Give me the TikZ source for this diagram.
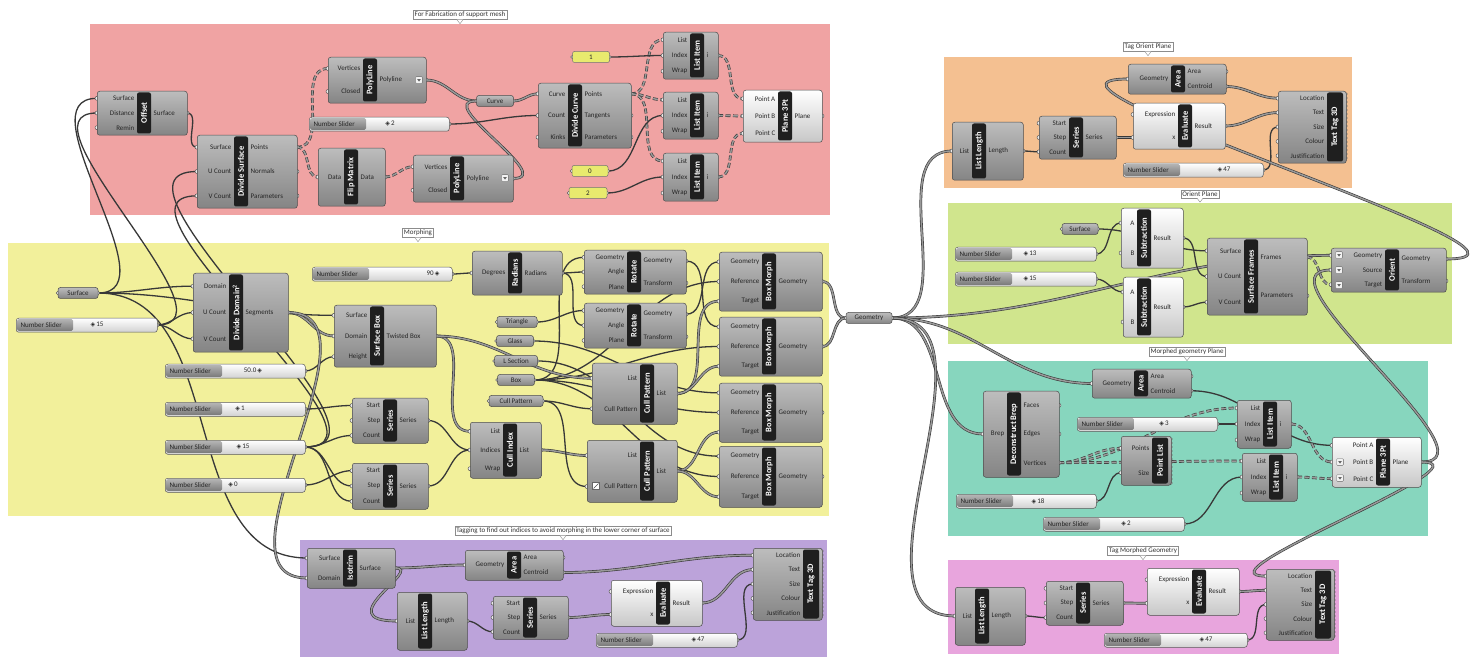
\documentclass[tikz,border=0pt]{standalone}
\usepackage{fontspec}
\setmainfont{Carlito}
\newfontfamily\dejavu{DejaVu Sans}
\pgfdeclarelayer{grp}
\pgfdeclarelayer{wir}
\pgfsetlayers{grp,wir,main}
\definecolor{gred}{RGB}{240,163,163}
\definecolor{gorange}{RGB}{244,192,145}
\definecolor{ggreen}{RGB}{208,229,141}
\definecolor{gteal}{RGB}{135,214,190}
\definecolor{gpink}{RGB}{232,165,221}
\definecolor{gyellow}{RGB}{242,240,155}
\definecolor{gpurple}{RGB}{188,163,218}
\definecolor{panelY}{RGB}{232,234,110}
\tikzset{
  lab/.style={font=\fontsize{7}{8}\selectfont, text=black!85, inner sep=0.5pt},
  ttl/.style={font=\bfseries\fontsize{8.5}{9}\selectfont, text=white, inner sep=0, rotate=90},
  ghbody/.style={draw=black!70, line width=0.5pt, rounded corners=2.5pt, top color=black!26, bottom color=black!48, inner sep=0},
  ghlight/.style={draw=black!70, line width=0.5pt, rounded corners=2.5pt, top color=white, bottom color=black!22, inner sep=0},
  ghcur/.style={ghbody},
  slbody/.style={draw=black!65, line width=0.5pt, rounded corners=2.5pt, top color=white, bottom color=black!18, inner sep=0},
  panelst/.style={draw=black!55, line width=0.5pt, rounded corners=2pt, fill=panelY, inner sep=0},
  port/.style={fill=black!8, draw=black!75, line width=0.4pt},
  barf/.style={fill=black!88, rounded corners=2pt},
  gtitle/.style={fill=white, draw=black!45, line width=0.4pt, font=\fontsize{7}{8}\selectfont, text=black!80, inner sep=1.5pt},
  gptr/.style={fill=white, draw=black!45, line width=0.4pt},
  w/.style={draw=black!78, line width=1.3pt},
  wl/.style={draw=black!78, line width=0.6pt, double=black!40, double distance=1.5pt},
  wt/.style={wl, dash pattern=on 5pt off 2.5pt},
}
\newcommand\dia{{\dejavu\fontsize{6}{6}\selectfont ◈}}
% component: name x y w h baroffset title inputs outputs
\newcommand\ghc[9]{%
  \gdef\ghn{0}\foreach \ghl in {#8}{\xdef\ghn{\the\numexpr\ghn+1\relax}}%
  \gdef\ghm{0}\foreach \ghl in {#9}{\xdef\ghm{\the\numexpr\ghm+1\relax}}%
  \foreach \ghl [count=\ghi] in {#8}{%
    \pgfmathsetmacro\ghy{#3+#5*(\ghi-0.5)/\ghn}%
    \coordinate (#1-i\ghi) at (#2,\ghy);
    \path[port] (#2,\ghy) circle (2pt);}%
  \foreach \ghl [count=\ghi] in {#9}{%
    \pgfmathsetmacro\ghy{#3+#5*(\ghi-0.5)/\ghm}%
    \coordinate (#1-o\ghi) at (#2+#4,\ghy);
    \path[port] (#2+#4,\ghy) circle (2pt);}%
  \node[ghcur, minimum width=#4pt, minimum height=#5pt, anchor=north west] (#1) at (#2,#3) {};
  \path[barf] (#2+#6-7,#3+1.5) rectangle (#2+#6+7,#3+#5-1.5);
  \node[ttl] at (#2+#6,#3+#5/2) {#7};
  \foreach \ghl [count=\ghi] in {#8}{%
    \pgfmathsetmacro\ghy{#3+#5*(\ghi-0.5)/\ghn}%
    \node[lab,anchor=east] at (#2+#6-9,\ghy) {\ghl};}%
  \foreach \ghl [count=\ghi] in {#9}{%
    \pgfmathsetmacro\ghy{#3+#5*(\ghi-0.5)/\ghm}%
    \node[lab,anchor=west] at (#2+#6+9,\ghy) {\ghl};}%
  \tikzset{ghcur/.style={ghbody}}%
}
\newcommand\ghcl{\tikzset{ghcur/.style={ghlight}}\ghc}
% bar-right component: name x y w h title inputs
\newcommand\ghcr[7]{%
  \gdef\ghn{0}\foreach \ghl in {#7}{\xdef\ghn{\the\numexpr\ghn+1\relax}}%
  \foreach \ghl [count=\ghi] in {#7}{%
    \pgfmathsetmacro\ghy{#3+#5*(\ghi-0.5)/\ghn}%
    \coordinate (#1-i\ghi) at (#2,\ghy);
    \path[port] (#2,\ghy) circle (2pt);}%
  \pgfmathtruncatemacro\ghk{(#5-5)/4}%
  \foreach \ghkk in {0,...,\ghk}{\path[port] (#2+#4,#3+3+\ghkk*4) circle (1.3pt);}%
  \node[ghbody, minimum width=#4pt, minimum height=#5pt, anchor=north west] (#1) at (#2,#3) {};
  \path[barf] (#2+#4-19,#3+1.5) rectangle (#2+#4-3,#3+#5-1.5);
  \node[ttl] at (#2+#4-11,#3+#5/2) {#6};
  \foreach \ghl [count=\ghi] in {#7}{%
    \pgfmathsetmacro\ghy{#3+#5*(\ghi-0.5)/\ghn}%
    \node[lab,anchor=east] at (#2+#4-21,\ghy) {\ghl};}%
}
% slider: name x y w valuex value
\newcommand\ghslider[6]{%
  \coordinate (#1-o1) at (#2+#4,#3+7);
  \path[port] (#1-o1) circle (2pt);
  \node[slbody, minimum width=#4pt, minimum height=14pt, anchor=north west] (#1) at (#2,#3) {};
  \shade[top color=black!30, bottom color=black!52, rounded corners=1.5pt] (#2+1.2,#3+1.2) rectangle (#2+57,#3+12.8);
  \node[lab, anchor=west] at (#2+4,#3+7) {Number Slider};
  \node[lab] at (#5,#3+7) {#6};
}
% parameter: name cx cy w text
\newcommand\ghp[5]{%
  \coordinate (#1-i) at (#2-#4/2,#3);
  \coordinate (#1-o) at (#2+#4/2,#3);
  \path[port] (#1-i) circle (1.8pt);
  \path[port] (#1-o) circle (1.8pt);
  \node[lab, ghbody, minimum width=#4pt, minimum height=11pt] (#1) at (#2,#3) {#5};
}
\newcommand\ghpan[5]{%
  \coordinate (#1-i) at (#2-#4/2,#3);
  \coordinate (#1-o) at (#2+#4/2,#3);
  \path[port] (#1-i) circle (1.8pt);
  \path[port] (#1-o) circle (1.8pt);
  \node[lab, panelst, minimum width=#4pt, minimum height=11pt] (#1) at (#2,#3) {#5};
}
% group: x1 y1 x2 y2 colour title tcx tcy name
\newcommand\ghg[9]{%
  \begin{pgfonlayer}{grp}\fill[#5] (#1,#2) rectangle (#3,#4);\end{pgfonlayer}%
  \node[gtitle] (#9) at (#7,#8) {#6};
  \path[gptr] ([xshift=-3pt]#9.south) -- ++(3,4) -- ++(3,-4);
}
\newcommand\ghicon[2]{%
  \path[draw=black!60, fill=black!5, rounded corners=0.8pt, line width=0.4pt] (#1-3.3,#2-3.3) rectangle (#1+3.3,#2+3.3);
  \path[fill=black!60] (#1-1.8,#2-0.9) -- (#1+1.8,#2-0.9) -- (#1,#2+1.6) -- cycle;}
\newcommand\ghcheck[2]{%
  \path[draw=black!60, fill=white, line width=0.4pt] (#1-3.5,#2-3.5) rectangle (#1+3.5,#2+3.5);
  \draw[black!70, line width=0.6pt] (#1-2.5,#2+2.5) -- (#1+2.5,#2-2.5);}
\newcommand\ghw[3][w]{\draw[#1] (#2) to[out=0,in=180] (#3);}
\begin{document}
\begin{tikzpicture}[x=1pt,y=-1pt]
\begin{pgfonlayer}{grp}\fill[white] (0,0) rectangle (1484,668);\end{pgfonlayer}
\useasboundingbox (0,0) rectangle (1484,668);
% groups
\ghg{90}{24}{830}{215}{gred}{For Fabrication of support mesh}{460}{15}{t1}
\ghg{944}{57}{1352}{188}{gorange}{Tag Orient Plane}{1148}{47}{t2}
\ghg{948}{203}{1452}{344}{ggreen}{Orient Plane}{1200}{194}{t3}
\ghg{948}{361}{1428}{536}{gteal}{Morphed geometry Plane}{1187}{352}{t4}
\ghg{948}{560}{1339}{654}{gpink}{Tag Morphed Geometry}{1143}{551}{t5}
\ghg{8}{243}{829}{516}{gyellow}{Morphing}{418}{233}{t6}
\ghg{300}{540}{827}{657}{gpurple}{Tagging to find out indices to avoid morphing in the lower corner of surface}{563}{531}{t7}
% red group
\ghc{off}{97}{91}{90}{44}{47}{Offset}{Surface,Distance,Remin}{Surface}
\ghc{dsurf}{197}{135}{100}{73}{44}{Divide Surface}{Surface,U Count,V Count}{Points,Normals,Parameters}
\ghc{pl1}{328}{57}{98}{46}{42}{PolyLine}{Vertices,Closed}{Polyline}
\ghicon{419}{80}
\ghslider{sl2}{309}{117}{140}{390}{\dia\,2}
\ghc{flip}{318}{148}{67}{58}{33}{Flip Matrix}{Data}{Data}
\ghc{pl2}{413}{155}{100}{47}{44}{PolyLine}{Vertices,Closed}{Polyline}
\ghicon{505}{178}
\ghp{crv}{495}{101}{37}{Curve}
\ghc{dcrv}{538}{83}{93}{65}{37}{Divide Curve}{Curve,Count,Kinks}{Points,Tangents,Parameters}
\ghpan{pan1}{591}{57}{37}{1}
\ghpan{pan0}{590}{171}{36}{0}
\ghpan{pan2}{588}{193}{38}{2}
\ghc{li1}{663}{32}{55}{47}{34}{List Item}{List,Index,Wrap}{i}
\ghc{li2}{663}{92}{55}{47}{34}{List Item}{List,Index,Wrap}{i}
\ghc{li3}{663}{153}{55}{48}{34}{List Item}{List,Index,Wrap}{i}
\ghcl{p3a}{743}{90}{79}{52}{42}{Plane 3Pt}{Point A,Point B,Point C}{Plane}
% orange group
\ghc{ll1}{952}{122}{71}{58}{27}{List Length}{List}{Length}
\ghc{ser1}{1039}{116}{77}{43}{37}{Series}{Start,Step,Count}{Series}
\ghc{ar1}{1128}{64}{98}{30}{50}{Area}{Geometry}{Area,Centroid}
\ghcl{ev1}{1133}{103}{92}{46}{52}{Evaluate}{Expression,x}{Result}
\ghcr{tt1}{1278}{91}{68}{72}{Text Tag 3D}{Location,Text,Size,Colour,Justification}
\ghslider{sl47a}{1123}{163}{140}{1224}{\dia\,47}
% green group
\ghp{srf2}{1080}{229}{36}{Surface}
\ghslider{sl13}{955}{247}{141}{1030}{\dia\,13}
\ghslider{sl15b}{955}{272}{141}{1030}{\dia\,15}
\ghcl{sub1}{1121}{208}{62}{60}{23}{Subtraction}{A,B}{Result}
\ghcl{sub2}{1123}{277}{60}{60}{21}{Subtraction}{A,B}{Result}
\ghc{sfr}{1207}{238}{100}{77}{44}{Surface Frames}{Surface,U Count,V Count}{Frames,Parameters}
\ghc{ori}{1331}{248}{115}{44}{61}{Orient}{Geometry,Source,Target}{Geometry,Transform}
\ghicon{1339}{255}\ghicon{1339}{270}\ghicon{1339}{285}
% teal group
\ghc{ar2}{1092}{369}{99}{29}{49}{Area}{Geometry}{Area,Centroid}
\ghc{dbr}{983}{391}{76}{86}{31}{Deconstruct Brep}{Brep}{Faces,Edges,Vertices}
\ghslider{sl3}{1077}{417}{140}{1164}{\dia\,3}
\ghc{li4}{1237}{400}{54}{48}{33}{List Item}{List,Index,Wrap}{i}
\ghcr{plst}{1121}{436}{50}{49}{Point List}{Points,Size}
\ghc{li5}{1242}{453}{55}{48}{34}{List Item}{List,Index,Wrap}{i}
\ghcl{p3b}{1332}{437}{89}{50}{51}{Plane 3Pt}{Point A,Point B,Point C}{Plane}
\ghicon{1340}{462}\ghicon{1340}{478}
\ghslider{sl18}{956}{494}{140}{1038}{\dia\,18}
\ghslider{sl2b}{1043}{517}{141}{1126}{\dia\,2}
% pink group
\ghc{ll2}{955}{587}{70}{58}{27}{List Length}{List}{Length}
\ghc{ser2}{1046}{581}{77}{44}{37}{Series}{Start,Step,Count}{Series}
\ghcl{ev2}{1147}{568}{92}{47}{52}{Evaluate}{Expression,x}{Result}
\ghcr{tt2}{1266}{569}{68}{71}{Text Tag 3D}{Location,Text,Size,Colour,Justification}
\ghslider{sl47b}{1104}{633}{143}{1206}{\dia\,47}
% purple group
\ghc{iso}{307}{548}{88}{40}{43}{Isotrim}{Surface,Domain}{Surface}
\ghc{ar3}{465}{550}{98}{30}{49}{Area}{Geometry}{Area,Centroid}
\ghc{ll3}{397}{592}{70}{58}{28}{List Length}{List}{Length}
\ghc{ser3}{493}{596}{75}{43}{37}{Series}{Start,Step,Count}{Series}
\ghcl{ev3}{611}{580}{91}{46}{52}{Evaluate}{Expression,x}{Result}
\ghslider{sl47c}{596}{633}{141}{698}{\dia\,47}
\ghcr{tt3}{753}{548}{69}{72}{Text Tag 3D}{Location,Text,Size,Colour,Justification}
% yellow group
\ghp{srf1}{78}{293}{40}{Surface}
\ghslider{sl15a}{16}{318}{141}{97}{\dia\,15}
\ghc{ddom}{193}{273}{95}{79}{43}{Divide Domain\textsuperscript{2}}{Domain,U Count,V Count}{Segments}
\ghslider{sl90}{312}{267}{140}{433}{90\,\dia}
\ghc{rad}{472}{251}{90}{44}{43}{Radians}{Degrees}{Radians}
\ghc{rot1}{584}{250}{102}{44}{50}{Rotate}{Geometry,Angle,Plane}{Geometry,Transform}
\ghc{rot2}{584}{303}{102}{45}{50}{Rotate}{Geometry,Angle,Plane}{Geometry,Transform}
\ghc{sbox}{334}{305}{102}{62}{43}{Surface Box}{Surface,Domain,Height}{Twisted Box}
\ghp{tri}{517}{322}{40}{Triangle}
\ghp{gls}{515}{341}{37}{Glass}
\ghp{lsec}{516}{361}{43}{L Section}
\ghp{boxp}{516}{380}{37}{Box}
\ghp{cpat}{516}{401}{54}{Cull Pattern}
\ghc{cp1}{592}{363}{85}{61}{55}{Cull Pattern}{List,Cull Pattern}{List}
\ghc{cp2}{587}{440}{90}{62}{60}{Cull Pattern}{List,Cull Pattern}{List}
\ghcheck{596}{486}
\ghc{cind}{470}{422}{71}{56}{40}{Cull Index}{List,Indices,Wrap}{List}
\ghc{ser4}{352}{398}{76}{45}{38}{Series}{Start,Step,Count}{Series}
\ghc{ser5}{352}{463}{76}{46}{38}{Series}{Start,Step,Count}{Series}
\ghslider{sl50}{165}{364}{140}{253}{50.0\,\dia}
\ghslider{sl1}{165}{402}{140}{240}{\dia\,1}
\ghslider{sl15c}{165}{440}{140}{243}{\dia\,15}
\ghslider{sl0}{165}{478}{140}{233}{\dia\,0}
\ghc{bm1}{719}{252}{103}{59}{50}{Box Morph}{Geometry,Reference,Target}{Geometry}
\ghc{bm2}{719}{317}{103}{59}{50}{Box Morph}{Geometry,Reference,Target}{Geometry}
\ghc{bm3}{719}{383}{103}{59}{50}{Box Morph}{Geometry,Reference,Target}{Geometry}
\ghc{bm4}{719}{446}{103}{61}{50}{Box Morph}{Geometry,Reference,Target}{Geometry}
\ghp{geo}{869}{318}{46}{Geometry}
% wires
\begin{pgfonlayer}{wir}
\ghw{off-o1}{dsurf-i1}
\ghw[wt]{dsurf-o1}{pl1-i1}
\ghw[wt]{dsurf-o1}{flip-i1}
\ghw[wt]{flip-o1}{pl2-i1}
\ghw[wl]{pl1-o1}{crv-i}
\draw[wl] (pl2-o1) .. controls +(45,0) and +(-45,0) .. (crv-i);
\ghw[wl]{crv-o}{dcrv-i1}
\ghw{sl2-o1}{dcrv-i2}
\ghw[wt]{dcrv-o1}{li1-i1}
\ghw[wt]{dcrv-o1}{li2-i1}
\ghw[wt]{dcrv-o1}{li3-i1}
\ghw{pan1-o}{li1-i2}
\ghw{pan0-o}{li2-i2}
\ghw{pan2-o}{li3-i2}
\ghw[wt]{li1-o1}{p3a-i1}
\ghw[wt]{li2-o1}{p3a-i2}
\ghw[wt]{li3-o1}{p3a-i3}
\ghw{srf1-o}{off-i1}
\ghw{sl15a-o1}{off-i2}
\ghw{sl15c-o1}{dsurf-i2}
\ghw{sl15c-o1}{dsurf-i3}
\ghw{srf1-o}{ddom-i1}
\ghw{sl15a-o1}{ddom-i2}
\ghw{sl15a-o1}{ddom-i3}
\ghw{srf1-o}{sbox-i1}
\ghw[wl]{ddom-o1}{sbox-i2}
\ghw{sl50-o1}{sbox-i3}
\ghw{srf1-o}{iso-i1}
\ghw[wl]{ddom-o1}{iso-i2}
\ghw{sl90-o1}{rad-i1}
\ghw{rad-o1}{rot1-i2}
\ghw{rad-o1}{rot2-i2}
\ghw{boxp-o}{rot1-i1}
\ghw{tri-o}{rot2-i1}
\ghw{rot1-o1}{bm2-i1}
\ghw{rot2-o1}{bm1-i1}
\ghw{gls-o}{bm3-i1}
\ghw{lsec-o}{bm4-i1}
\ghw{boxp-o}{bm1-i2}
\ghw{boxp-o}{bm2-i2}
\ghw{boxp-o}{bm3-i2}
\ghw{boxp-o}{bm4-i2}
\ghw[wl]{sbox-o1}{cind-i1}
\ghw[wl]{sbox-o1}{cp1-i1}
\ghw{ser4-o1}{cind-i2}
\ghw{ser5-o1}{cind-i2}
\ghw[wl]{cind-o1}{cp2-i1}
\ghw{cpat-o}{cp1-i2}
\ghw{cpat-o}{cp2-i2}
\ghw[wl]{cp1-o1}{bm1-i3}
\ghw[wl]{cp1-o1}{bm2-i3}
\ghw[wl]{cp2-o1}{bm3-i3}
\ghw[wl]{cp2-o1}{bm4-i3}
\ghw{sl1-o1}{ser4-i1}
\ghw{sl15c-o1}{ser4-i3}
\ghw{sl15c-o1}{ser5-i2}
\ghw{sl15c-o1}{ser5-i3}
\ghw{sl0-o1}{ser5-i1}
\ghw[wl]{bm1-o1}{geo-i}
\ghw[wl]{bm2-o1}{geo-i}
\ghw[wl]{geo-o}{ll1-i1}
\ghw[wl]{geo-o}{ori-i1}
\ghw[wl]{geo-o}{ar2-i1}
\ghw[wl]{geo-o}{dbr-i1}
\ghw[wl]{geo-o}{ll2-i1}
\ghw{ll1-o1}{ser1-i3}
\ghw[wl]{ser1-o1}{ev1-i2}
\ghw[wl]{ar1-o2}{tt1-i1}
\ghw[wl]{ev1-o1}{tt1-i2}
\ghw{sl47a-o1}{tt1-i3}
\ghw[wl]{ori-o1}{ar1-i1}
\ghw{srf2-o}{sfr-i1}
\ghw{sl13-o1}{sub1-i1}
\ghw{sl15b-o1}{sub2-i1}
\ghw{sub1-o1}{sfr-i2}
\ghw{sub2-o1}{sfr-i3}
\ghw[wt]{sfr-o1}{ori-i3}
\ghw[wl]{p3b-o1}{ori-i2}
\ghw{ar2-o2}{p3b-i1}
\ghw[wt]{dbr-o3}{li4-i1}
\ghw[wt]{dbr-o3}{plst-i1}
\ghw[wt]{dbr-o3}{li5-i1}
\ghw{sl3-o1}{li4-i2}
\ghw[wt]{li4-o1}{p3b-i2}
\ghw[wt]{li5-o1}{p3b-i3}
\ghw{sl18-o1}{plst-i2}
\ghw{sl2b-o1}{li5-i2}
\ghw[wl]{p3b-o1}{tt2-i1}
\ghw{ll2-o1}{ser2-i3}
\ghw[wl]{ser2-o1}{ev2-i2}
\ghw[wl]{ev2-o1}{tt2-i2}
\ghw{sl47b-o1}{tt2-i3}
\ghw[wl]{iso-o1}{ar3-i1}
\draw[wl] (iso-o1) .. controls +(30,0) and +(-70,0) .. (ll3-i1);
\ghw[wl]{ar3-o2}{tt3-i1}
\ghw{ll3-o1}{ser3-i3}
\ghw[wl]{ser3-o1}{ev3-i2}
\ghw[wl]{ev3-o1}{tt3-i2}
\ghw{sl47c-o1}{tt3-i3}
\end{pgfonlayer}
\end{tikzpicture}
\end{document}
